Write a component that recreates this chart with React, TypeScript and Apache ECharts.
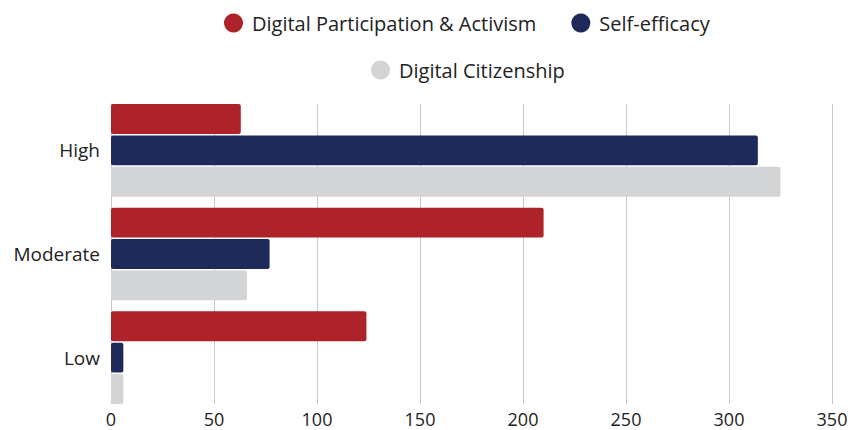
import React, { useEffect, useRef } from "react";
import * as echarts from "echarts";

const categories = ["High", "Moderate", "Low"];
const seriesNames = ["Digital Participation & Activism", "Self-efficacy", "Digital Citizenship"];
const participation = [63, 210, 124];
const selfEfficacy = [314, 77, 6];
const citizenship = [325, 66, 6];
const colors = ["#AE2229", "#1F2A5A", "#D3D4D6"];
const xTicks = { min: 0, max: 350, interval: 50 };

export default function App() {
  const ref = useRef<HTMLDivElement>(null);
  useEffect(() => {
    if (!ref.current) return;
    const chart = echarts.init(ref.current, null, { renderer: "svg" });
    const font = "Open Sans";
    const values = [participation, selfEfficacy, citizenship];
    const legendCommon = {
      icon: "circle",
      itemWidth: 19,
      itemHeight: 19,
      itemGap: 35,
      textStyle: { fontSize: 20, color: "#222", fontFamily: font, padding: [0, 0, 0, 4] },
    };
    chart.setOption({
      animation: false,
      textStyle: { fontFamily: font },
      legend: [
        { ...legendCommon, data: [seriesNames[0], seriesNames[1]], top: 8, left: 219 },
        { ...legendCommon, data: [seriesNames[2]], top: 55, left: 366 },
      ],
      grid: [
        { left: 111, right: 20, top: 98.5, bottom: 20.5, containLabel: false },
        { left: 111, right: 20, top: 104, bottom: 26, containLabel: false },
      ],
      xAxis: [
        {
          type: "value",
          gridIndex: 0,
          min: xTicks.min,
          max: xTicks.max,
          interval: xTicks.interval,
          axisLine: { show: false },
          axisTick: { show: false },
          splitLine: { show: false },
          axisLabel: { fontSize: 18, lineHeight: 18, color: "#222", margin: 0, fontFamily: font },
        },
        {
          type: "value",
          gridIndex: 1,
          min: xTicks.min,
          max: xTicks.max,
          interval: xTicks.interval,
          axisLine: { show: false },
          axisTick: { show: false },
          axisLabel: { show: false },
          splitLine: { show: true, lineStyle: { color: "#C8C8C8", width: 1 } },
        },
      ],
      yAxis: [
        {
          type: "category",
          gridIndex: 0,
          data: categories,
          inverse: true,
          axisLine: { show: false },
          axisTick: { show: false },
          axisLabel: { fontSize: 19, color: "#222", margin: 11, fontFamily: font },
        },
        {
          type: "category",
          gridIndex: 1,
          data: categories,
          inverse: true,
          show: false,
        },
      ],
      series: seriesNames.map((name, i) => ({
        name,
        type: "bar",
        xAxisIndex: 0,
        yAxisIndex: 0,
        data: values[i],
        barCategoryGap: "10.6%",
        barGap: "5%",
        itemStyle: { color: colors[i], borderRadius: 2 },
      })),
    });
    return () => chart.dispose();
  }, []);
  return (
    <div
      ref={ref}
      style={{ position: "absolute", left: 0, top: 0, width: 852, height: 430 }}
    />
  );
}
